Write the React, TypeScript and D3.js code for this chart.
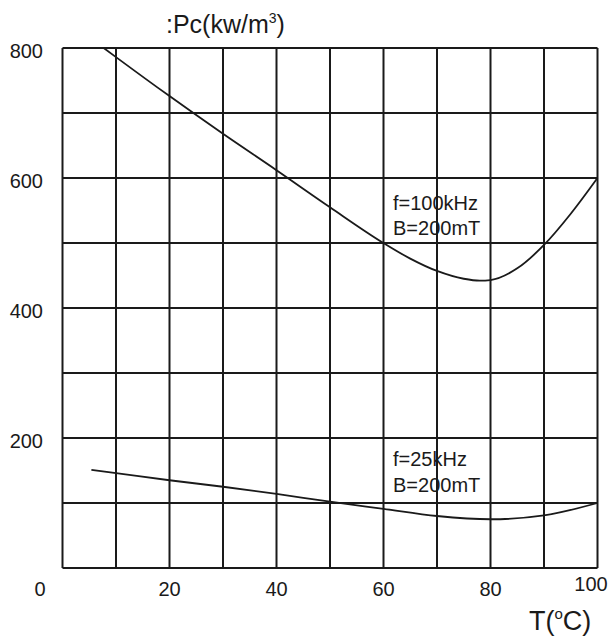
import React from "react";
import * as d3 from "d3";

const xTicks = [0, 20, 40, 60, 80, 100];
const yTicks = [0, 200, 400, 600, 800];
const gridX = [0, 10, 20, 30, 40, 50, 60, 70, 80, 90, 100];
const gridY = [0, 100, 200, 300, 400, 500, 600, 700, 800];

const t100 = [7.7, 10, 20, 30, 40, 50, 60, 65, 70, 75, 78, 80, 85, 90, 95, 100];
const p100 = [800, 786, 726, 668, 612, 555, 500, 476, 457, 445, 442, 443, 461, 497, 545, 600];

const t25 = [5.4, 10, 20, 30, 40, 50, 60, 70, 80, 90, 100];
const p25 = [151, 146, 135, 125, 114, 102, 91, 80, 75, 81, 100];

const labels100 = ["f=100kHz", "B=200mT"];
const labels25 = ["f=25kHz", "B=200mT"];

export default function App() {
  const W = 610, H = 640;
  const x = d3.scaleLinear().domain([0, 100]).range([62.5, 597.5]);
  const y = d3.scaleLinear().domain([0, 800]).range([568, 48]);
  const line = d3
    .line<[number, number]>()
    .x((d) => x(d[0]))
    .y((d) => y(d[1]))
    .curve(d3.curveMonotoneX);
  const d100 = line(t100.map((t, i) => [t, p100[i]] as [number, number])) || "";
  const d25 = line(t25.map((t, i) => [t, p25[i]] as [number, number])) || "";
  const font = "'Liberation Sans', Arial, sans-serif";
  const ink = "#1a1a1a";
  return (
    <svg
      width={W}
      height={H}
      style={{ position: "absolute", left: 0, top: 0, background: "#fff" }}
      fontFamily={font}
    >
      <rect width={W} height={H} fill="#fff" />
      {gridX.map((v) => (
        <line key={"gx" + v} x1={x(v)} x2={x(v)} y1={y(0)} y2={y(800)} stroke={ink} strokeWidth={2} />
      ))}
      {gridY.map((v) => (
        <line key={"gy" + v} x1={x(0)} x2={x(100)} y1={y(v)} y2={y(v)} stroke={ink} strokeWidth={2} />
      ))}
      <path d={d100} fill="none" stroke={ink} strokeWidth={1.8} />
      <path d={d25} fill="none" stroke={ink} strokeWidth={1.8} />
      {yTicks.filter((v) => v > 0).map((v) => (
        <text key={"yt" + v} x={43} y={y(v) + 10} textAnchor="end" fontSize={20} fill={ink}>
          {v}
        </text>
      ))}
      {xTicks.map((v) => (
        <text
          key={"xt" + v}
          x={v === 0 ? 40 : v === 100 ? 591 : x(v)}
          y={v === 100 ? 591 : 596}
          textAnchor="middle"
          fontSize={20}
          fill={ink}
        >
          {v}
        </text>
      ))}
      <text x={166} y={33} fontSize={25} fill={ink}>
        :Pc(kw/m<tspan dy={-10} fontSize={14}>3</tspan><tspan dy={10}>)</tspan>
      </text>
      <text x={529} y={630} fontSize={27} fill={ink}>
        T(<tspan dy={-11} fontSize={15}>o</tspan><tspan dy={11}>C)</tspan>
      </text>
      {labels100.map((s, i) => (
        <text key={"l100" + i} x={393} y={210 + i * 25} fontSize={20} fill={ink}>
          {s}
        </text>
      ))}
      {labels25.map((s, i) => (
        <text key={"l25" + i} x={393} y={466 + i * 26} fontSize={20} fill={ink}>
          {s}
        </text>
      ))}
    </svg>
  );
}
